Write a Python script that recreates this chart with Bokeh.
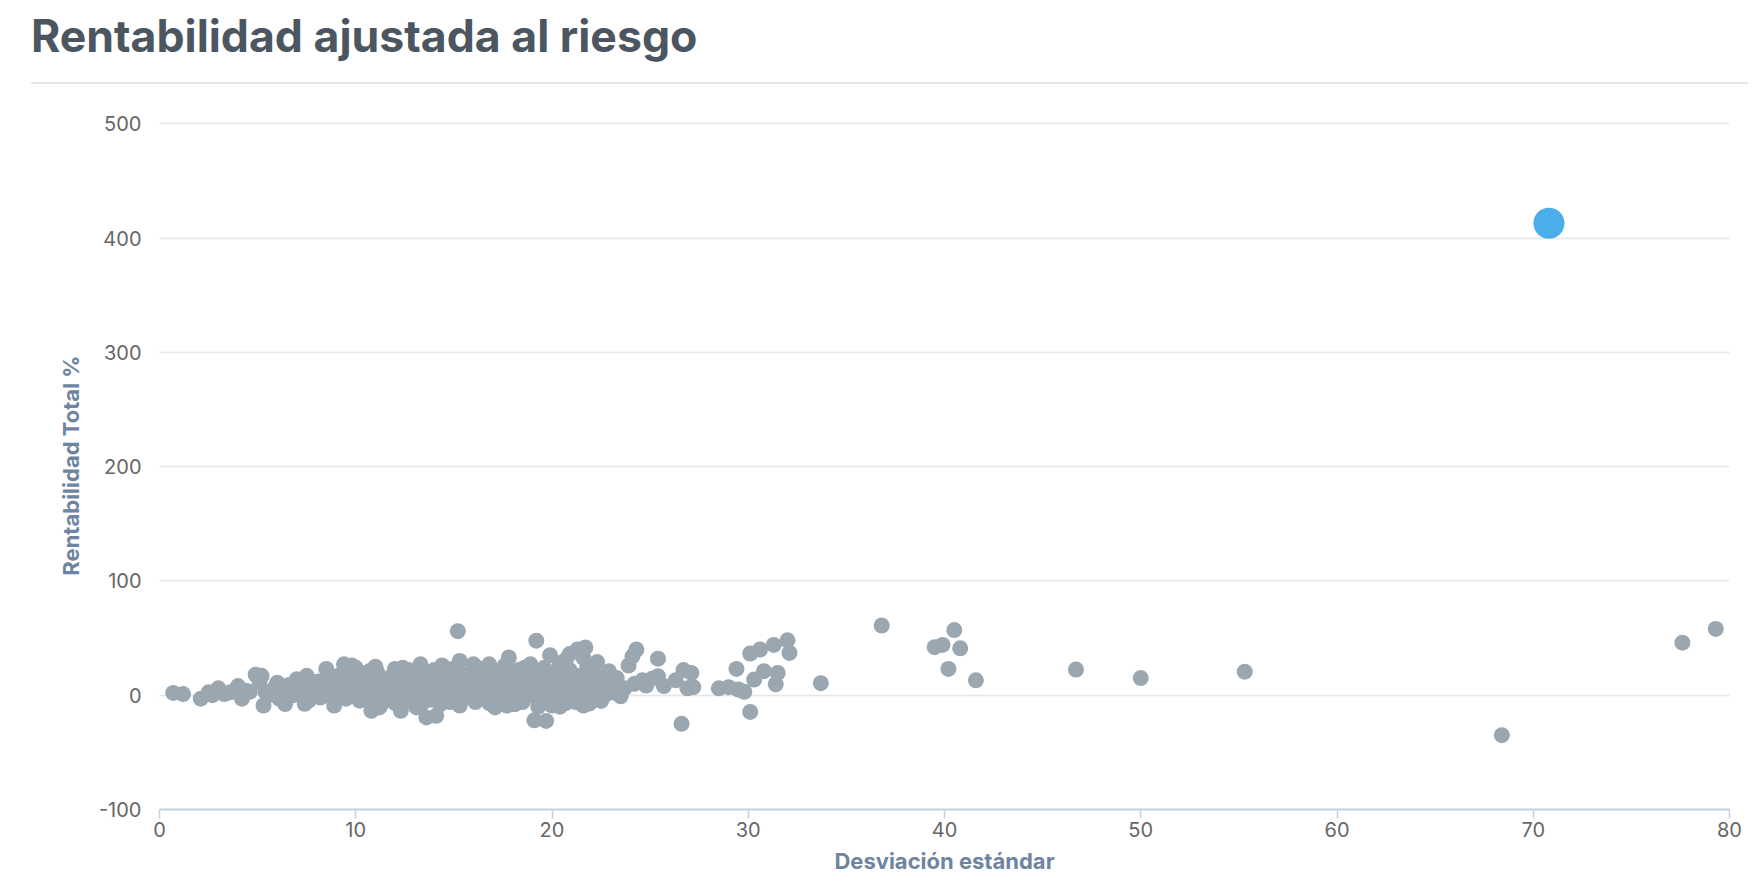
from bokeh.plotting import figure
from bokeh.models import Range1d, Div, FixedTicker
from bokeh.layouts import column
from bokeh.embed import file_html
from bokeh.resources import INLINE

# ---- data (Desviación estándar, Rentabilidad Total %) ----
cluster_points = [
    (0.7, 2), (1.2, 1), (2.1, -3), (2.5, 2.5), (2.7, 0), (3.0, 6), (3.3, 1), (3.6, 2.5),
    (4.0, 8), (4.2, -3), (4.4, 4), (4.6, 3), (4.9, 18), (5.1, 12), (5.2, 17), (5.3, -9),
    (5.4, 3), (5.6, 0), (5.9, 7), (6.0, 11), (6.2, 2), (6.4, -7.7), (6.4, 5), (6.6, 9),
    (6.8, 0), (7.0, 14), (7.2, 4), (7.4, -7.5), (7.4, 7), (7.5, 17), (7.6, -4.8), (7.8, 10),
    (8.0, 2), (8.1, 12), (8.3, 6), (8.5, 23), (8.6, 0), (8.7, 15), (8.9, -9), (9.0, 4),
    (9.1, 10), (9.2, 18), (9.4, 27), (9.5, -3), (9.6, 7), (9.8, 26), (9.9, 14), (10.0, 0),
    (10.1, 21), (10.2, -4.8), (10.3, 9), (10.5, 3), (10.6, 17), (10.7, 21), (10.8, -13.6),
    (10.9, 12), (11.0, 5), (11.1, 20), (11.2, -10.7), (11.3, 1), (11.5, 14), (11.6, 8),
    (11.8, -3), (11.9, 18), (12.0, 23), (12.1, 4), (12.2, 11), (12.3, -13.6), (12.4, 24),
    (12.5, -2), (12.6, 16), (12.7, 7), (12.9, 20), (13.0, 0), (13.1, -10.7), (13.2, 12),
    (13.3, 27), (13.4, 3), (13.5, 19), (13.6, -19.4), (13.7, 8), (13.8, 14), (13.9, -4),
    (14.0, 22), (14.1, -18), (14.2, 5), (14.3, 21), (14.4, 11), (14.6, -1), (14.7, 16),
    (14.9, 23), (15.0, -4.8), (15.0, 7), (15.2, 56), (15.3, 30), (15.3, 12), (15.4, 2),
    (15.5, 18), (15.6, -2), (15.8, 9), (16.0, 27), (16.0, 14), (16.2, -3), (16.3, 21),
    (16.5, 5), (16.6, 11), (16.8, 27), (16.9, -1), (17.0, 17), (17.1, -10.7), (17.2, 8),
    (17.4, 22), (17.5, 2), (17.7, -9), (17.8, 33), (17.8, 13), (18.0, 5), (18.1, 19),
    (18.3, -2), (18.4, 9), (18.6, 24), (18.7, 14), (18.9, 27), (18.9, 0), (19.1, -22),
    (19.2, 47.7), (19.2, 10), (19.3, 18), (19.5, 3), (19.6, 24), (19.7, -22.5), (19.8, -5),
    (19.9, 35), (20.0, 13), (20.0, -9), (20.1, 20), (20.3, 6), (20.4, 28), (20.5, 0),
    (20.6, 15), (20.8, -3), (20.9, 36), (20.9, 22), (21.0, 9), (21.2, -6), (21.3, 40),
    (21.4, 17), (21.5, 3), (21.7, 41.8), (21.8, 25), (21.9, 11), (21.9, -7.3), (22.1, -2),
    (22.2, 18), (22.3, 29), (22.4, 6), (22.6, 13), (22.7, 0), (22.9, 21), (23.0, 8),
    (23.3, 15), (23.5, -0.9),
    (8.2, -2), (8.8, 8), (9.3, 1), (9.7, 12), (10.4, 15), (10.9, -6), (11.4, 10), (11.7, 2),
    (12.0, -7), (12.3, 14), (12.8, -5), (13.1, 9), (13.6, 15), (13.9, 3), (14.3, -8),
    (14.5, 7), (14.8, -6), (15.1, 15), (15.7, 5), (16.1, -6), (16.4, 8), (16.7, 15),
    (17.3, -4), (17.6, 10), (17.9, 0), (18.2, 12), (18.5, -6), (18.8, 5), (19.0, 14),
    (19.4, -3), (19.7, 8), (20.2, 2), (20.5, 11), (20.7, -7), (21.1, 14), (21.3, -2),
    (21.6, 7), (22.0, 3), (22.5, -5), (22.8, 10), (23.2, 2), (6.9, 4), (7.7, 0), (6.1, -3),
    (5.8, 4), (11.0, 25), (12.2, 19), (13.9, 19), (16.2, 24), (17.6, 26), (18.3, 22),
    (20.7, 31), (21.6, 33), (14.4, 26), (15.9, 20), (10.0, 24), (9.5, 21), (12.7, 22),
    (11.3, -8), (13.4, -7), (15.3, -9), (16.8, -7), (18.1, -8), (19.3, -10), (20.4, -10),
    (21.6, -9),
]

spread_points = [
    (23.7, 6), (23.9, 26), (24.1, 34), (24.2, 10), (24.3, 40), (24.6, 13), (24.8, 8.5),
    (25.1, 14.5), (25.4, 32), (25.4, 16.6), (25.7, 8), (26.3, 13), (26.6, -25), (26.7, 22),
    (26.9, 6), (27.1, 19.5), (27.2, 7), (28.5, 6), (29.0, 7), (29.4, 23), (29.5, 5),
    (29.8, 3), (30.1, -14.6), (30.1, 36.5), (30.3, 13.7), (30.6, 40), (30.8, 21), (31.3, 44),
    (31.4, 9.6), (31.5, 19.5), (32.0, 48), (32.1, 37), (33.7, 10.5),
]

outlier_points = [
    (36.8, 61), (39.5, 42), (39.9, 44), (40.2, 23), (40.5, 57), (40.8, 41), (41.6, 13),
    (46.7, 22.5), (50.0, 15), (55.3, 20.6), (68.4, -35), (77.6, 46), (79.3, 58),
]

highlight_x = [70.8]
highlight_y = [413]

x_ticks = [0, 10, 20, 30, 40, 50, 60, 70, 80]
y_ticks = [-100, 0, 100, 200, 300, 400, 500]
y_tick_labels = {-100: "-100", 0: "0", 100: "100", 200: "200", 300: "300", 400: "400", 500: "500"}

title_text = "Rentabilidad ajustada al riesgo"
x_title = "Desviación estándar"
y_title = "Rentabilidad Total %"

all_points = cluster_points + spread_points + outlier_points
gray_x = [pt[0] for pt in all_points]
gray_y = [pt[1] for pt in all_points]

FONT = "Inter"

title_div = Div(
    text=(f'<div style="font-family:{FONT}; font-weight:700; font-size:44.6px; color:#4b5661; '
          f'line-height:44px; padding-top:14px; height:84px; box-sizing:border-box; '
          f'margin-left:31px; width:1717px; border-bottom:2px solid #e6e6e6;">{title_text}</div>'),
    width=1748, height=84, margin=(0, 0, 0, 0),
)

p = figure(
    width=1748, height=797,
    output_backend="svg", toolbar_location=None,
    x_range=Range1d(0, 80), y_range=Range1d(-100, 502),
    min_border_left=159, min_border_right=19, min_border_top=37, min_border_bottom=72,
)
p.outline_line_color = None
p.background_fill_color = "white"
p.border_fill_color = "white"

p.xgrid.grid_line_color = None
p.ygrid.grid_line_color = "#e6e6e6"
p.ygrid.grid_line_width = 1.5

p.xaxis.ticker = FixedTicker(ticks=x_ticks)
p.yaxis.ticker = FixedTicker(ticks=y_ticks)
p.yaxis.major_label_overrides = y_tick_labels

p.xaxis.axis_line_color = "#c2d0df"
p.xaxis.axis_line_width = 2
p.xaxis.major_tick_line_color = "#c2d0df"
p.xaxis.major_tick_line_width = 1.5
p.xaxis.major_tick_out = 9
p.xaxis.major_tick_in = 0
p.xaxis.minor_tick_line_color = None
p.xaxis.major_label_standoff = 3
p.xaxis.axis_label = x_title
p.xaxis.axis_label_standoff = 8

p.yaxis.axis_line_color = None
p.yaxis.major_tick_line_color = None
p.yaxis.minor_tick_line_color = None
p.yaxis.major_label_standoff = 12
p.yaxis.axis_label = y_title
p.yaxis.axis_label_standoff = 12

for ax in (p.xaxis, p.yaxis):
    ax.major_label_text_font = FONT
    ax.major_label_text_font_size = "20px"
    ax.major_label_text_color = "#666666"
    ax.axis_label_text_font = FONT
    ax.axis_label_text_font_size = "22px"
    ax.axis_label_text_font_style = "bold"
    ax.axis_label_text_color = "#6e84a0"

p.scatter(gray_x, gray_y, size=16, fill_color="#9ba7b0", line_color=None)
p.scatter(highlight_x, highlight_y, size=31, fill_color="#4aaeea", line_color=None)

layout = column(title_div, p, spacing=0)
open("out.html", "w").write(file_html(layout, INLINE))
